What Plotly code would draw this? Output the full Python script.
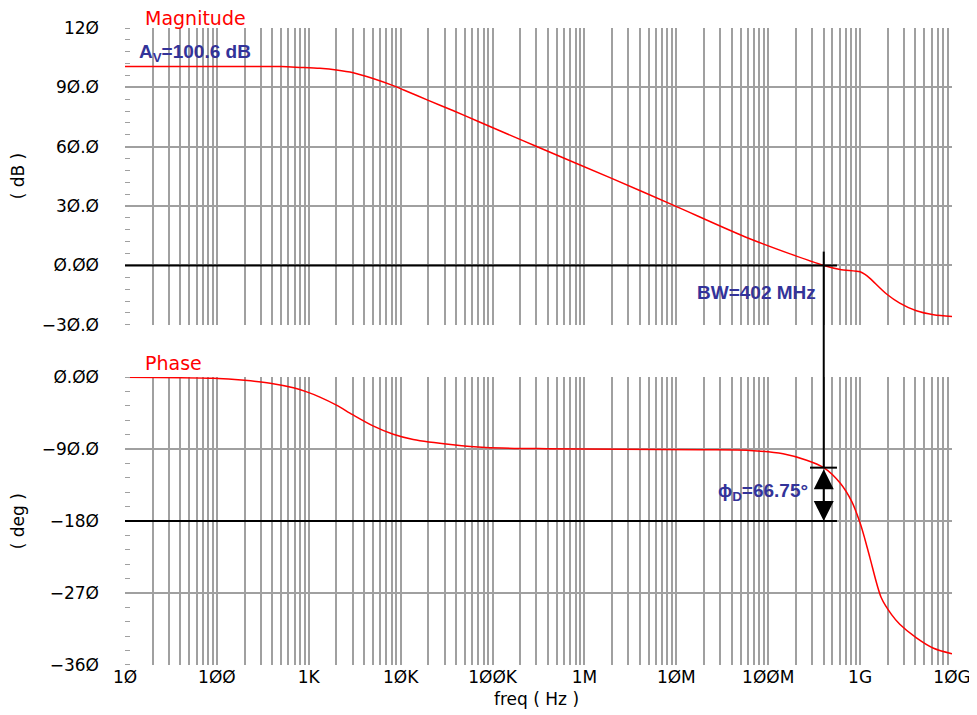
import math
import plotly.graph_objects as go

# Bode plot of the op-amp open-loop response

mag_freq = [10, 100, 500, 800, 1.32e3, 2e3, 3.05e3, 5e3, 8.3e3, 1.08e4, 2e4, 3.7e4,
            6.9e4, 1.31e5, 3.02e5, 1.98e6, 9.25e6, 6.3e7, 4.02e8, 6.06e8, 1e9, 1.13e9,
            1.28e9, 1.94e9, 2.7e9, 4.1e9, 6.3e9, 1e10]
mag_db = [100.6, 100.6, 100.5, 100.1, 99.6, 98.8, 97.4, 94.5, 90.9, 88.7, 83.4, 78.3,
          72.9, 67.3, 60.1, 44.0, 30.5, 13.5, 0.0, -2.0, -3.2, -4.5,
          -6.5, -14.4, -19.0, -22.9, -24.9, -25.8]

ph_freq = [10, 91, 200, 380, 680, 950, 1.32e3, 2e3, 3e3, 5e3, 8.3e3, 1.37e4, 3.7e4,
           8.4e4, 3.9e5, 1.8e7, 6.3e7, 1.45e8, 2.62e8, 4.02e8, 6.06e8, 8.1e8, 1e9,
           1.13e9, 1.28e9, 1.7e9, 2.2e9, 2.7e9, 4.1e9, 6.3e9, 1e10]
ph_deg = [-0.3, -1.6, -4.1, -7.6, -13.4, -18.5, -25, -35, -47, -61, -71.5, -78, -84.6,
          -88, -89.6, -90.9, -91.7, -95.9, -104, -113.25, -132.5, -155.5, -182.5,
          -203, -226, -276, -297, -309, -326, -339, -346]

decade_freqs = [1e1, 1e2, 1e3, 1e4, 1e5, 1e6, 1e7, 1e8, 1e9, 1e10]
decade_labels = ["1Ø", "1ØØ", "1K", "1ØK", "1ØØK", "1M", "1ØM", "1ØØM", "1G", "1ØG"]

mag_ticks = [-30, 0, 30, 60, 90, 120]
mag_tick_labels = ["−3Ø.Ø", "Ø.ØØ", "3Ø.Ø", "6Ø.Ø", "9Ø.Ø", "12Ø"]
ph_ticks = [-360, -270, -180, -90, 0]
ph_tick_labels = ["−36Ø", "−27Ø", "−18Ø", "−9Ø.Ø", "Ø.ØØ"]

av_db = 100.6
bw_hz = 402e6
pm_deg = 66.75

# ---- styling ----
RED = "#ff0000"
BLUE = "#333399"
GRID = "#a0a0a0"
TICKFONT = dict(family="DejaVu Sans", size=17, color="black")
NOTEFONT = dict(family="Liberation Sans", size=19, color=BLUE)

mag_range = [-30, 120]
ph_range = [-360, 0]
top_dom = [0.534, 1.0]
bot_dom = [0.0, 0.452]


def top_paper(v):
    return top_dom[0] + (v - mag_range[0]) / (mag_range[1] - mag_range[0]) * (top_dom[1] - top_dom[0])


def bot_paper(v):
    return bot_dom[0] + (v - ph_range[0]) / (ph_range[1] - ph_range[0]) * (bot_dom[1] - bot_dom[0])


# every 1..9 multiple per decade gets a grid line, only decades get labels
grid_vals, grid_text = [], []
for f, lab in zip(decade_freqs, decade_labels):
    grid_vals.append(f)
    grid_text.append(lab)
    if f < decade_freqs[-1]:
        for m in range(2, 10):
            grid_vals.append(f * m)
            grid_text.append("")

fig = go.Figure()
fig.add_trace(go.Scatter(x=mag_freq, y=mag_db, mode="lines", line=dict(color=RED, width=1.5, shape="spline", smoothing=0.8),
                         xaxis="x", yaxis="y", showlegend=False))
fig.add_trace(go.Scatter(x=ph_freq, y=ph_deg, mode="lines", line=dict(color=RED, width=1.5, shape="spline", smoothing=0.8),
                         xaxis="x2", yaxis="y2", showlegend=False))

xcommon = dict(type="log", range=[1, 10], tickmode="array", tickvals=grid_vals, ticktext=grid_text,
               showgrid=True, gridcolor=GRID, gridwidth=1.5, zeroline=False, ticks="",
               tickfont=TICKFONT, showline=False, tickangle=0, automargin=False)

# the page body adds an 8 px offset at top/left
fig.update_layout(
    width=969, height=707,
    margin=dict(l=117, r=25, t=20, b=50),
    plot_bgcolor="white", paper_bgcolor="white",
    xaxis=dict(xcommon, anchor="y", showticklabels=False),
    xaxis2=dict(xcommon, anchor="y2", matches="x", showticklabels=True),
    yaxis=dict(domain=top_dom, range=mag_range, tickmode="array", tickvals=mag_ticks, ticktext=mag_tick_labels,
               showgrid=True, gridcolor=GRID, gridwidth=1.5, zeroline=False, ticks="", automargin=False,
               tickfont=TICKFONT, ticklabelstandoff=25, anchor="x",
               minor=dict(tick0=0, dtick=6, ticks="inside", ticklen=5, tickcolor=GRID, tickwidth=1.2, showgrid=False)),
    yaxis2=dict(domain=bot_dom, range=ph_range, tickmode="array", tickvals=ph_ticks, ticktext=ph_tick_labels,
                showgrid=True, gridcolor=GRID, gridwidth=1.5, zeroline=False, ticks="", automargin=False,
                tickfont=TICKFONT, ticklabelstandoff=25, anchor="x2",
                minor=dict(tick0=0, dtick=18, ticks="inside", ticklen=5, tickcolor=GRID, tickwidth=1.2, showgrid=False)),
)

# reference lines: 0 dB, -180 deg, unity-gain marker and phase-margin tick
line_end = 5.6e8
fig.add_shape(type="line", xref="x", yref="y", x0=decade_freqs[0], x1=line_end, y0=0, y1=0,
              line=dict(color="black", width=2))
fig.add_shape(type="line", xref="x2", yref="y2", x0=decade_freqs[0], x1=line_end, y0=-180, y1=-180,
              line=dict(color="black", width=2))
fig.add_shape(type="line", xref="x", yref="paper", x0=bw_hz, x1=bw_hz,
              y0=top_paper(7), y1=bot_paper(-180 + pm_deg), line=dict(color="black", width=2))
fig.add_shape(type="line", xref="x2", yref="y2", x0=2.85e8, x1=line_end, y0=-180 + pm_deg, y1=-180 + pm_deg,
              line=dict(color="black", width=2))
fig.add_annotation(x=math.log10(bw_hz), y=-180, xref="x2", yref="y2",
                   ax=math.log10(bw_hz), ay=-180 + pm_deg, axref="x2", ayref="y2",
                   text="", showarrow=True, arrowhead=2, arrowside="end+start",
                   arrowsize=2, arrowwidth=2, arrowcolor="black", standoff=0, startstandoff=0)

# titles and labels
fig.add_annotation(text="Magnitude", xref="paper", yref="paper", x=0.022, y=1.0,
                   xanchor="left", yanchor="bottom", yshift=-3, showarrow=False,
                   font=dict(family="DejaVu Sans", size=19, color=RED))
fig.add_annotation(text="Phase", xref="paper", yref="paper", x=0.022, y=0.474,
                   xanchor="left", yanchor="middle", showarrow=False,
                   font=dict(family="DejaVu Sans", size=19, color=RED))
fig.add_annotation(text="( dB )", xref="paper", yref="paper", x=-0.129, y=0.7677, textangle=-90,
                   xanchor="center", yanchor="middle", showarrow=False, font=TICKFONT)
fig.add_annotation(text="( deg )", xref="paper", yref="paper", x=-0.129, y=0.226, textangle=-90,
                   xanchor="center", yanchor="middle", showarrow=False, font=TICKFONT)
fig.add_annotation(text="freq ( Hz )", xref="paper", yref="paper", x=0.498, y=-0.053,
                   xanchor="center", yanchor="middle", showarrow=False, font=TICKFONT)

fig.add_annotation(text=f"<b>A<sub>V</sub>={av_db} dB</b>", xref="paper", yref="paper", x=0.0145, y=0.9608,
                   xanchor="left", yanchor="middle", showarrow=False, font=NOTEFONT)
fig.add_annotation(text=f"<b>BW={bw_hz / 1e6:.0f} MHz</b>", xref="paper", yref="paper", x=0.838, y=0.584,
                   xanchor="right", yanchor="middle", showarrow=False, font=NOTEFONT)
fig.add_annotation(text=f"<b>ϕ<sub>D</sub>={pm_deg}°</b>", xref="paper", yref="paper", x=0.7146, y=0.2716,
                   xanchor="left", yanchor="middle", showarrow=False, font=NOTEFONT)

fig.write_html("out.html")
